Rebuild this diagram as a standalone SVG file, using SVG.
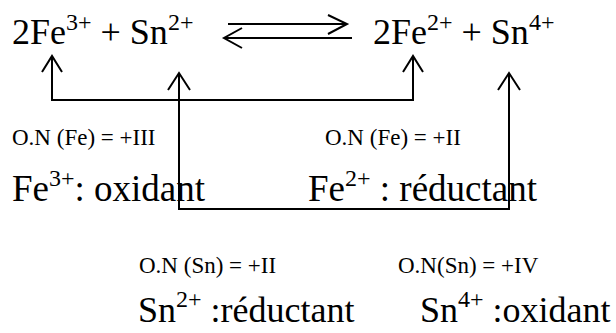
<svg xmlns="http://www.w3.org/2000/svg" width="616" height="333" viewBox="0 0 616 333" font-family="'Liberation Serif', 'Times New Roman', Times, serif">
<style>
text{font-family:'Liberation Serif','Times New Roman',Times,serif;fill:#000}
.m{font-size:36px}
.m3{font-size:37px}
.s{font-size:24px}
.l{font-size:23px}
.ln{fill:none;stroke:#000;stroke-width:2}
</style>
<rect width="616" height="333" fill="#fff"/>
<g id="eq-left">
<text class="m" x="12" y="44">2Fe<tspan class="s" dy="-14">3+</tspan><tspan dy="14"> + Sn</tspan><tspan class="s" dy="-14">2+</tspan></text>
</g>
<g id="eq-right">
<text class="m" x="373" y="44">2Fe<tspan class="s" dy="-14">2+</tspan><tspan dy="14"> + Sn</tspan><tspan class="s" dy="-14">4+</tspan></text>
</g>
<g id="equilibrium">
<path class="ln" d="M228 24H347M328 15L347 24L328 34"/>
<path class="ln" d="M352 38H224M242 28L224 38L242 48"/>
</g>
<g id="label-fe3">
<text class="l" x="12" y="145">O.N (Fe) = +III</text>
<text class="m3" x="12" y="201">Fe<tspan class="s" dy="-15">3+</tspan><tspan dy="15">: oxidant</tspan></text>
</g>
<g id="label-fe2">
<text class="l" x="325" y="145">O.N (Fe) = +II</text>
<text class="m3" x="308" y="201">Fe<tspan class="s" dy="-15">2+</tspan><tspan dy="15"> : réductant</tspan></text>
</g>
<g id="label-sn2">
<text class="l" x="139" y="273">O.N (Sn) = +II</text>
<text class="m" x="138" y="322">Sn<tspan class="s" dy="-15">2+</tspan><tspan dy="15"> :réductant</tspan></text>
</g>
<g id="label-sn4">
<text class="l" x="398" y="273">O.N(Sn) = +IV</text>
<text class="m" x="420" y="322">Sn<tspan class="s" dy="-15">4+</tspan><tspan dy="15"> :oxidant</tspan></text>
</g>
<g id="connectors">
<path class="ln" d="M52 56V100H413V56"/>
<path class="ln" d="M42 72L52 56L62 72M403 72L413 56L423 72"/>
<path class="ln" d="M179 73V209H509V73"/>
<path class="ln" d="M168 90L179 73L190 90M498 90L509 73L520 90"/>
</g>
</svg>
